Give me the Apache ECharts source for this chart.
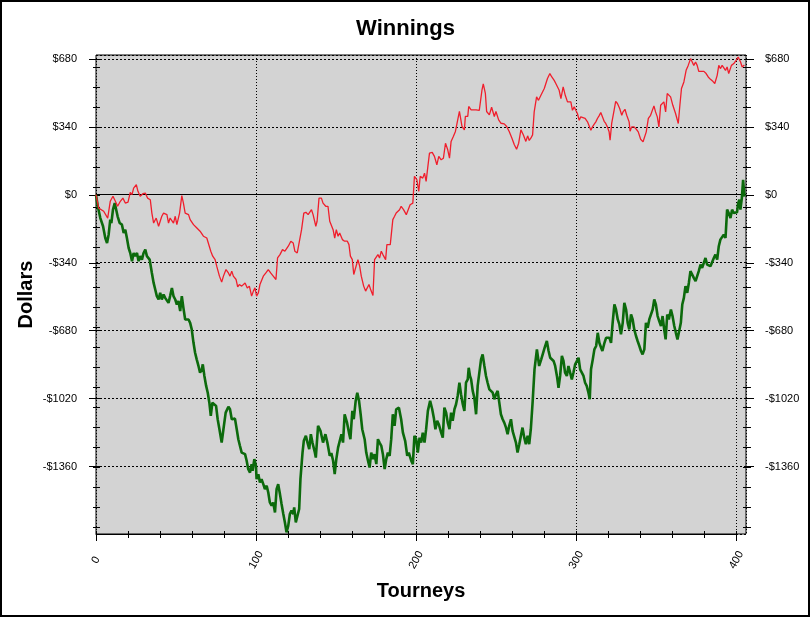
<!DOCTYPE html>
<html>
<head>
<meta charset="utf-8">
<script src="https://cdn.jsdelivr.net/npm/echarts@6/dist/echarts.min.js"></script>
<style>
html,body{margin:0;padding:0;background:#fff;}
#chart{width:811px;height:617px;}
</style>
</head>
<body>
<div id="chart"></div>
<script>
const titleText = 'Winnings';
const xName = 'Tourneys';
const yName = 'Dollars';
const yTickValues = [-1360, -1020, -680, -340, 0, 340, 680];
const xTickValues = [0, 100, 200, 300, 400];

const redTourneys = [0,1.7,4.8,7.3,8.9,10.6,12.1,13.5,15.2,16.8,18.3,20,21.4,22.5,23.5,25.2,26.2,27.6,29.3,30.8,32.2,33.9,34.9,36,37.6,39.1,40.1,41.1,42.2,43.2,44.3,45.3,46.3,47.4,48.4,49.5,50.5,52.2,53.6,54.6,55.7,57.8,58.8,60.9,63,65,67.1,69.2,70.2,71.7,72.9,74.4,75.4,77.1,78.5,79.6,81.2,82.7,83.7,84.8,85.8,87.5,88.5,89.5,91,92,93.1,94.5,95.8,97.2,98.3,99.3,100.3,101.4,102.4,103.4,104.5,106.1,107.6,109.1,110.7,112.4,113.4,114.9,116.5,118,119,120.1,121.7,123.2,124.2,125.7,126.9,128.4,129.8,131.1,132.5,133.6,134.6,135.6,137.3,138.1,139.3,140.8,141.8,143.5,144.9,146,147,148.1,149.1,150.1,151.2,152.2,153.9,155.3,157,158,158.9,160.1,161,162.2,163.6,164.7,165.7,167.2,168.4,169.5,170.5,171.9,173,174,175.1,176.1,177.1,178.2,179.2,180.9,181.7,183.8,185.4,186.5,187.5,188.6,189.6,190.6,192.1,193.8,194.8,196.2,197.9,198.9,200.4,201.6,202.5,204.1,205.2,206.2,207.3,208.3,210,211.4,212.9,214.1,215.6,217,218.3,219.7,220.8,221.8,223.2,224.5,227,228.6,230.1,230.7,232.2,232.8,234.3,235.3,237.4,239.4,240.5,241.1,241.9,243.2,244,245.7,247.1,248.8,249.8,251.5,253,255,256.5,258.1,259.8,261.3,262.7,264,265.4,266.9,268.5,269.6,270.6,271.6,272.7,273.7,275.2,276.4,277.9,278.9,280,281,282,283.5,284.7,286.2,287.2,288.3,289.3,290.4,291.8,293.1,294.5,295.5,296.6,297.6,298.7,299.7,300.7,301.8,302.8,303.9,305.5,307,308,309.1,310.1,311.1,312.2,313.2,314.2,315.3,316.3,317.4,318.4,319.4,320.5,321.1,322.1,323.6,324.6,325.7,327.1,328.4,329.2,330.4,331.5,333,333.6,334.6,336.1,337.5,338.7,340.2,341.7,342.9,343.7,345,346.4,347.5,348.5,349.5,350.6,351.6,352.7,353.7,354.7,355.8,356.8,357.9,358.9,360.3,362,363.7,364.7,365.7,367.2,368.6,369.9,371.4,372.4,373.4,374.5,375.5,376.5,377.6,379.7,381.1,382.4,383.8,385.3,386.5,388,389,390,391.1,392.1,393.2,394.2,395.2,396.3,396.9,398.4,399.8,401.1,401.9,402.6,403.6,405];
const redWinnings = [0,-67,-83,-117,-33,-8,-33,-58,-33,-17,-42,-37,12,0,33,50,17,-8,5,8,-17,-25,-92,-142,-117,-158,-167,-108,-92,-83,-100,-142,-117,-108,-142,-108,-150,-92,-5,-42,-92,-100,-125,-150,-167,-183,-208,-217,-225,-283,-308,-325,-358,-408,-438,-408,-375,-392,-408,-383,-408,-425,-462,-450,-458,-450,-442,-467,-458,-508,-483,-467,-508,-492,-450,-442,-408,-392,-375,-392,-408,-425,-317,-300,-275,-283,-292,-258,-233,-242,-283,-292,-283,-175,-92,-88,-100,-108,-75,-100,-158,-133,-17,-17,-42,-58,-58,-133,-142,-175,-217,-175,-208,-192,-225,-233,-233,-250,-308,-325,-400,-392,-325,-358,-408,-458,-483,-475,-450,-483,-505,-325,-317,-300,-317,-283,-300,-325,-250,-250,-125,-108,-92,-100,-75,-58,-75,-100,-92,-50,-42,92,75,17,92,83,108,67,142,208,212,192,150,192,175,183,258,225,183,267,292,317,417,342,325,392,392,442,425,433,425,422,425,525,555,508,417,400,438,392,417,375,358,355,342,317,283,250,228,258,325,300,267,295,272,283,300,415,490,473,498,498,532,540,582,607,590,573,557,557,523,482,540,498,465,473,465,423,440,423,407,373,390,382,382,365,357,323,340,352,365,382,395,412,415,368,357,340,315,273,357,423,468,457,432,398,415,428,398,365,318,340,340,328,315,278,265,273,315,382,398,407,445,415,390,340,448,457,465,415,507,502,490,448,407,357,448,532,565,623,648,682,665,648,665,648,618,623,618,607,590,578,568,557,598,648,632,648,657,623,640,607,598,648,657,673,690,690,665,640,650];

const greenTourneys = [0,1.1,2.7,4.4,5.8,6.9,7.9,8.9,9.6,10.6,11.7,12.7,13.5,14.8,16.2,17.3,18.3,19.3,20.4,21.4,22.5,23.5,24.5,25.6,26.6,27.6,28.7,29.7,30.8,31.8,33.5,34.9,36,37,38,39.1,40.1,41.1,42.2,43.2,44.3,45.3,46.3,47.4,48.4,49.5,50.5,51.5,52.6,53.6,54.6,55.7,56.7,57.8,58.8,59.8,60.9,61.9,62.9,64,65,66.1,66.7,67.7,68.8,69.8,70.8,71.7,72.7,73.7,75,76,77.1,78.5,79.6,81,82.7,83.7,84.8,85.8,86.8,87.9,88.9,89.9,91,92,93.1,94.1,95.1,96.2,97.2,97.8,98.9,99.9,100.3,101.4,102.4,103.4,104.5,105.5,106.6,107.6,108.6,109.7,110.7,111.8,112.8,113.8,114.9,115.9,117,118,119,120.1,121.1,122.1,123.2,123.8,124.8,125.7,126.9,127.7,129,129.8,131.1,132.1,133.2,134.2,135.2,136.7,137.3,138.7,140.2,141.8,143.3,144.5,146,147,148.1,149.1,150.1,151.2,152.2,153.3,154.3,155.3,156.8,158,158.9,160.1,161,162.2,163.2,164.3,165.3,166.3,167.8,168.8,169.9,170.9,171.9,173,174,175.1,176.1,177.1,178.2,179.2,180.3,181.3,182.3,183.4,184.4,185.4,186.5,187.5,189.2,190.6,191.7,193.1,194.4,195.4,196.9,197.9,198.9,200,201,202.1,203.1,204.1,205.2,206.2,207.3,208.7,210,211,212,213.1,214.1,215.6,216.6,217.6,218.7,219.7,220.8,221.8,222.8,223.9,224.9,225.9,227,228,229.1,230.1,231.1,232.2,232.8,233.6,234.3,235.3,236.3,237.4,238.4,239.4,240.5,241.5,242.6,243.6,244.6,245.7,246.7,247.8,248.8,249.8,250.9,251.9,252.9,254,255,256.1,257.1,258.1,259.2,260.2,261.3,262.3,263.3,264.4,265.4,266.4,267.5,268.5,269.6,270.6,271.6,272.7,273.9,275.4,276.8,278.1,278.9,280.2,281.6,282.7,283.7,284.7,285.8,286.8,287.9,288.9,289.9,291,292,293,294.1,295.1,296.2,297.2,298.2,299.3,300.3,301.4,302.4,303.4,304.5,305.5,306.5,307.6,308.4,309.2,310.3,311.3,312.4,313.4,314.4,315.5,316.3,317.6,318.6,319.6,320.7,321.7,322.7,323.8,324.8,325.9,326.9,327.9,329,330,331.1,332.1,333.1,334.2,335.2,336.2,337.3,338.3,339.4,340.4,341.4,342.5,343.5,344.6,345.6,346.6,347.7,348.7,349.7,350.8,351.8,352.9,353.9,354.9,355.8,356.8,357.8,359.1,360.1,361.2,362.2,363.2,364.1,365.3,366.2,367.2,368.2,369.3,370.3,371.3,372.4,373.4,374.5,375.5,376.5,377.6,378.6,379.7,380.7,381.7,382.8,383.8,384.8,385.9,386.9,388,389,390,391.1,392.1,393.2,394.2,395.2,396.3,397.3,398.3,399.4,400.4,401.1,401.9,402.5,403.4,404.2,405];
const greenWinnings = [0,-58,-117,-158,-217,-242,-200,-125,-142,-75,-42,-50,-108,-142,-150,-192,-175,-217,-267,-292,-333,-292,-308,-292,-333,-308,-325,-292,-275,-308,-325,-392,-442,-475,-508,-525,-492,-525,-500,-517,-508,-542,-508,-467,-508,-525,-550,-533,-583,-508,-567,-625,-633,-625,-642,-675,-742,-792,-825,-858,-892,-875,-850,-908,-958,-992,-1042,-1108,-1042,-1033,-1058,-1125,-1175,-1242,-1175,-1092,-1062,-1075,-1125,-1125,-1122,-1175,-1225,-1258,-1292,-1292,-1300,-1333,-1375,-1392,-1350,-1383,-1325,-1358,-1425,-1400,-1442,-1425,-1450,-1475,-1458,-1492,-1542,-1558,-1542,-1592,-1475,-1450,-1500,-1550,-1600,-1642,-1692,-1658,-1600,-1583,-1600,-1567,-1642,-1650,-1575,-1425,-1292,-1233,-1208,-1242,-1275,-1200,-1242,-1292,-1317,-1158,-1183,-1242,-1200,-1242,-1308,-1295,-1333,-1400,-1325,-1267,-1267,-1200,-1242,-1100,-1142,-1192,-1225,-1083,-1125,-1033,-992,-1033,-1100,-1175,-1225,-1292,-1333,-1367,-1292,-1325,-1300,-1350,-1225,-1242,-1258,-1300,-1375,-1325,-1292,-1308,-1225,-1100,-1158,-1075,-1067,-1125,-1192,-1233,-1308,-1292,-1333,-1350,-1208,-1225,-1292,-1217,-1242,-1192,-1242,-1175,-1083,-1033,-1075,-1117,-1175,-1133,-1150,-1192,-1217,-1067,-1092,-1142,-1175,-1092,-1133,-1075,-1050,-1008,-942,-1000,-1050,-1083,-942,-925,-867,-908,-925,-983,-1017,-1100,-958,-967,-825,-800,-858,-908,-942,-975,-967,-992,-1025,-1000,-983,-1042,-1100,-1125,-1142,-1167,-1200,-1158,-1125,-1183,-1192,-1242,-1292,-1250,-1208,-1167,-1217,-1250,-1208,-1250,-1175,-1042,-875,-775,-858,-825,-833,-767,-733,-783,-817,-808,-833,-858,-908,-967,-908,-808,-833,-892,-908,-858,-867,-925,-892,-850,-858,-817,-875,-867,-908,-942,-958,-992,-1025,-875,-825,-775,-758,-692,-742,-767,-783,-742,-717,-725,-717,-742,-642,-550,-575,-625,-650,-700,-642,-542,-575,-642,-675,-600,-625,-675,-708,-733,-758,-783,-800,-775,-642,-667,-625,-633,-575,-525,-550,-608,-633,-658,-608,-675,-725,-600,-625,-575,-608,-658,-692,-725,-733,-642,-550,-517,-458,-492,-442,-383,-392,-417,-433,-425,-383,-350,-367,-358,-317,-350,-342,-358,-350,-317,-300,-325,-258,-225,-233,-200,-217,-75,-92,-117,-75,-92,-83,-88,-42,-25,-75,-17,75,-10];

const FONT = '"Liberation Sans", Arial, sans-serif';
const fmtMoney = v => (v < 0 ? '-$' : '$') + Math.abs(Math.round(v));
const yLabel = v => yTickValues.indexOf(Math.round(v)) >= 0 ? fmtMoney(v) : '';
const xLabel = v => xTickValues.indexOf(Math.round(v)) >= 0 ? String(Math.round(v)) : '';

const pair = (xs, ys) => xs.map((x, i) => [x, ys[i]]);

const chart = echarts.init(document.getElementById('chart'), null, {renderer: 'canvas'});

const hiddenAxis = (gridIndex) => ({type: 'value', gridIndex, show: false, min: 0, max: 1});
const tickOnly = (extra) => Object.assign({
  type: 'value', axisLine: {show: false}, axisLabel: {show: false}, splitLine: {show: false},
  axisTick: {show: true, length: 3, lineStyle: {color: '#000', width: 1}}
}, extra);

const option = {
  animation: false,
  backgroundColor: '#fff',
  title: {
    text: titleText, left: 'center', top: 13,
    textStyle: {fontSize: 22, fontWeight: 'bold', fontFamily: FONT, color: '#000'}
  },
  graphic: [{
    type: 'rect', silent: true, z: 100,
    shape: {x: 1, y: 1, width: 808, height: 615},
    style: {fill: 'none', stroke: '#000', lineWidth: 2}
  }],
  grid: [
    {left: 96, top: 55, width: 650, height: 479, show: true, backgroundColor: '#d3d3d3', borderColor: '#000', borderWidth: 1},
    {left: 96, top: 67, width: 650, height: 460},
    {left: 96, top: 59, width: 650, height: 407.5},
    {left: 96, top: 524, width: 640.4, height: 10}
  ],
  xAxis: [
    {type: 'value', gridIndex: 0, min: 0, max: 406, interval: 100,
     axisLine: {show: false}, axisTick: {show: false}, axisLabel: {show: false},
     splitLine: {show: true, lineStyle: {color: '#000', width: 1, type: [1, 2]}},
     name: xName, nameLocation: 'middle', nameGap: 47,
     nameTextStyle: {fontSize: 20, fontWeight: 'bold', fontFamily: FONT, color: '#000'}},
    hiddenAxis(1),
    hiddenAxis(2),
    {type: 'value', gridIndex: 3, min: 0, max: 400, interval: 100, position: 'bottom',
     axisLine: {show: true, lineStyle: {color: '#000', width: 1}},
     axisTick: {show: true, length: 7, lineStyle: {color: '#000', width: 1}},
     minorTick: {show: true, splitNumber: 5, length: 4, lineStyle: {color: '#000', width: 1}},
     splitLine: {show: false},
     axisLabel: {show: true, rotate: 60, formatter: xLabel, fontSize: 11, fontFamily: FONT, color: '#000',
                 align: 'center', verticalAlign: 'middle', margin: 26}},
    tickOnly({gridIndex: 3, min: 0, max: 400, interval: 20, position: 'bottom',
              axisTick: {show: true, inside: true, length: 3, lineStyle: {color: '#000', width: 1}}})
  ],
  yAxis: [
    {type: 'value', gridIndex: 0, min: -1700, max: 700, interval: 340,
     axisLine: {show: false}, axisTick: {show: false}, axisLabel: {show: false},
     splitLine: {show: true, lineStyle: {color: '#000', width: 1, type: [2, 2]}},
     name: yName, nameLocation: 'middle', nameGap: 60,
     nameTextStyle: {fontSize: 20, fontWeight: 'bold', fontFamily: FONT, color: '#000'}},
    tickOnly({gridIndex: 1, min: 0, max: 2300, interval: 100, position: 'left',
              axisTick: {show: true, length: 3, lineStyle: {color: '#000', width: 1}}}),
    tickOnly({gridIndex: 1, min: 0, max: 2300, interval: 100, position: 'left',
              axisTick: {show: true, inside: true, length: 4, lineStyle: {color: '#000', width: 1}}}),
    tickOnly({gridIndex: 1, min: 0, max: 2300, interval: 100, position: 'right',
              axisTick: {show: true, length: 5, lineStyle: {color: '#000', width: 1}}}),
    tickOnly({gridIndex: 1, min: 0, max: 2300, interval: 100, position: 'right',
              axisTick: {show: true, inside: true, length: 3, lineStyle: {color: '#000', width: 1}}}),
    {type: 'value', gridIndex: 2, min: -1360, max: 680, interval: 340, position: 'left',
     axisLine: {show: false}, splitLine: {show: false},
     axisTick: {show: true, length: 7, lineStyle: {color: '#000', width: 1}},
     axisLabel: {show: true, formatter: yLabel, fontSize: 11, fontFamily: FONT, color: '#000', margin: 19}},
    tickOnly({gridIndex: 2, min: -1360, max: 680, interval: 340, position: 'left',
              axisTick: {show: true, inside: true, length: 4, lineStyle: {color: '#000', width: 1}}}),
    {type: 'value', gridIndex: 2, min: -1360, max: 680, interval: 340, position: 'right',
     axisLine: {show: false}, splitLine: {show: false},
     axisTick: {show: true, length: 8, lineStyle: {color: '#000', width: 1}},
     axisLabel: {show: true, formatter: yLabel, fontSize: 11, fontFamily: FONT, color: '#000', margin: 19}},
    hiddenAxis(3)
  ],
  series: [
    {name: 'green', type: 'line', xAxisIndex: 0, yAxisIndex: 0, data: pair(greenTourneys, greenWinnings),
     showSymbol: false, symbol: 'none', silent: true,
     lineStyle: {color: '#0c6a0c', width: 2.6}, z: 3},
    {name: 'red', type: 'line', xAxisIndex: 0, yAxisIndex: 0, data: pair(redTourneys, redWinnings),
     showSymbol: false, symbol: 'none', silent: true,
     lineStyle: {color: '#f01e2c', width: 1.3}, z: 4,
     markLine: {silent: true, symbol: 'none', label: {show: false}, z: 2,
                lineStyle: {color: '#000', width: 1, type: 'solid'},
                data: [{yAxis: 0}]}}
  ]
};
chart.setOption(option);
</script>
</body>
</html>
